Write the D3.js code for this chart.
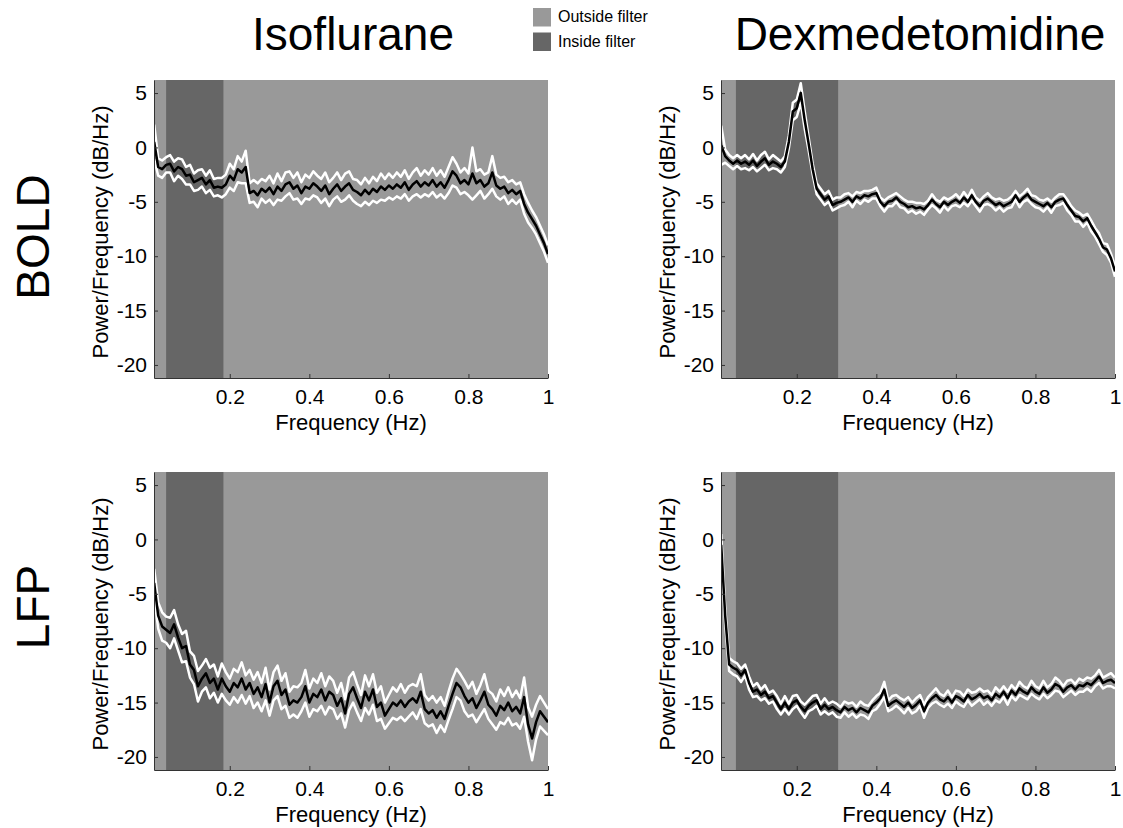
<!DOCTYPE html>
<html>
<head>
<meta charset="utf-8">
<script src="https://cdn.jsdelivr.net/npm/d3@7"></script>
<style>
  body { margin: 0; background: #fff; }
  svg { display: block; font-family: "Liberation Sans", Arial, sans-serif; }
</style>
</head>
<body>
<svg id="chart" width="1123" height="828"></svg>
<script>
// ----------
var freqHz = [
  0.01, 0.02, 0.03, 0.04, 0.05, 0.06, 0.07, 0.08, 0.09, 0.10,
  0.11, 0.12, 0.13, 0.14, 0.15, 0.16, 0.17, 0.18, 0.19, 0.20,
  0.21, 0.22, 0.23, 0.24, 0.25, 0.26, 0.27, 0.28, 0.29, 0.30,
  0.31, 0.32, 0.33, 0.34, 0.35, 0.36, 0.37, 0.38, 0.39, 0.40,
  0.41, 0.42, 0.43, 0.44, 0.45, 0.46, 0.47, 0.48, 0.49, 0.50,
  0.51, 0.52, 0.53, 0.54, 0.55, 0.56, 0.57, 0.58, 0.59, 0.60,
  0.61, 0.62, 0.63, 0.64, 0.65, 0.66, 0.67, 0.68, 0.69, 0.70,
  0.71, 0.72, 0.73, 0.74, 0.75, 0.76, 0.77, 0.78, 0.79, 0.80,
  0.81, 0.82, 0.83, 0.84, 0.85, 0.86, 0.87, 0.88, 0.89, 0.90,
  0.91, 0.92, 0.93, 0.94, 0.95, 0.96, 0.97, 0.98, 0.99, 1.00
];

// Isoflurane, BOLD
var isoBoldMean = [
  0.5, -1.8, -2.0, -1.6, -1.5, -2.2, -1.8, -2.0, -2.6, -2.5,
  -3.2, -3.0, -2.8, -3.4, -3.0, -3.7, -3.6, -3.7, -3.4, -2.6,
  -3.0, -2.0, -2.3, -1.8, -4.2, -4.0, -4.4, -3.8, -4.1, -3.7,
  -4.3, -3.6, -4.0, -3.4, -3.2, -3.8, -3.5, -4.2, -3.6, -3.8,
  -3.3, -3.6, -4.0, -3.5, -4.3, -3.8, -3.4, -4.0, -3.6, -3.3,
  -3.9, -4.1, -4.4, -3.9, -4.3, -3.8, -4.1, -3.6, -3.9, -3.5,
  -3.8, -3.4, -3.7, -3.2, -3.9, -3.4, -3.1, -3.6, -3.2, -3.5,
  -3.0, -3.6, -3.2, -3.7, -3.0, -2.2, -2.6, -3.3, -3.0, -3.4,
  -2.4, -3.3, -3.0, -3.6, -3.3, -2.3, -3.5, -3.8, -3.6, -4.2,
  -3.9, -4.3, -4.0, -5.2, -6.0, -6.6, -7.2, -8.0, -8.8, -9.8
];
var isoBoldSem = [
  1.6, 0.8, 0.8, 0.7, 0.8, 0.9, 0.8, 0.9, 0.8, 0.9,
  0.8, 0.9, 0.8, 0.8, 0.9, 0.8, 0.8, 0.9, 0.9, 1.1,
  1.0, 1.2, 1.0, 1.5, 0.9, 1.0, 1.1, 0.9, 1.0, 1.1,
  1.0, 1.2, 0.9, 1.1, 1.0, 1.0, 1.2, 1.0, 1.1, 1.0,
  1.1, 1.0, 1.1, 1.2, 1.1, 1.0, 1.1, 1.0, 1.2, 1.1,
  1.0, 1.1, 1.0, 1.1, 1.0, 1.1, 1.0, 1.2, 1.0, 1.1,
  1.0, 1.1, 1.0, 1.1, 1.0, 1.1, 1.2, 1.0, 1.1, 1.0,
  1.1, 1.0, 1.1, 1.0, 1.2, 1.3, 1.1, 1.0, 1.1, 1.0,
  2.4, 1.1, 1.0, 1.1, 1.0, 1.5, 1.0, 1.0, 0.9, 1.0,
  0.9, 0.9, 0.8, 0.9, 0.9, 0.8, 0.8, 0.8, 0.8, 0.8
];

// Dexmedetomidine, BOLD
var dexBoldMean = [
  0.2, -0.8, -1.2, -1.5, -1.2, -1.5, -1.3, -1.6, -1.2, -1.7,
  -1.3, -1.0, -1.6, -1.3, -1.5, -1.8, -1.3, 0.5, 3.3, 3.6,
  5.0, 2.5, 0.3, -2.0, -3.8, -4.3, -4.8, -4.5, -5.3, -5.1,
  -5.0, -4.8, -4.6, -5.0, -4.5, -4.7, -4.4, -4.5, -4.3, -4.2,
  -5.0, -5.4, -5.0, -4.9, -4.6, -5.0, -5.2, -5.5, -5.4, -5.6,
  -5.5, -5.7, -5.3, -4.8, -5.2, -5.5, -5.0, -5.3, -5.0, -4.8,
  -5.1, -4.6, -5.0, -4.4, -5.0, -5.4, -4.9, -4.7, -5.0, -5.3,
  -5.1, -5.4, -5.2, -5.0, -4.4, -5.0, -4.6, -4.3, -4.8, -5.0,
  -5.2, -5.4, -5.1, -5.5, -5.0, -4.8, -4.7, -5.3, -5.8, -6.3,
  -6.4, -6.8, -6.5, -7.2, -7.8, -8.4, -9.2, -9.4, -10.2, -11.4
];
var dexBoldSem = [
  1.8, 0.6, 0.5, 0.5, 0.5, 0.5, 0.6, 0.5, 0.6, 0.5,
  0.6, 0.6, 0.5, 0.6, 0.5, 0.5, 0.5, 0.6, 0.8, 0.8,
  0.9, 0.8, 0.6, 0.5, 0.5, 0.5, 0.5, 0.5, 0.5, 0.5,
  0.4, 0.5, 0.4, 0.5, 0.4, 0.5, 0.4, 0.5, 0.4, 0.5,
  0.4, 0.5, 0.4, 0.5, 0.4, 0.5, 0.4, 0.5, 0.4, 0.5,
  0.4, 0.5, 0.4, 0.5, 0.4, 0.5, 0.4, 0.5, 0.4, 0.5,
  0.4, 0.5, 0.4, 0.5, 0.4, 0.5, 0.4, 0.5, 0.4, 0.5,
  0.4, 0.5, 0.4, 0.5, 0.4, 0.5, 0.4, 0.5, 0.4, 0.5,
  0.4, 0.5, 0.4, 0.5, 0.4, 0.5, 0.4, 0.5, 0.4, 0.5,
  0.4, 0.5, 0.4, 0.5, 0.4, 0.5, 0.4, 0.5, 0.4, 0.5
];

// Isoflurane, LFP
var isoLfpMean = [
  -4.0, -7.0, -8.0, -8.3, -8.6, -7.8, -9.0, -10.0, -9.8, -11.5,
  -12.0, -13.5, -12.8, -12.3, -13.2, -12.8, -13.8, -12.8, -13.5, -14.0,
  -13.2, -13.6, -12.8, -13.8, -13.2, -14.2, -13.6, -14.5, -13.3, -15.0,
  -13.5, -13.0, -14.3, -13.8, -15.2, -14.8, -15.0, -14.5, -13.5, -15.0,
  -14.2, -14.5, -13.8, -14.8, -14.0, -14.3, -15.3, -14.6, -16.0, -14.2,
  -13.6, -14.6, -15.5, -14.0, -14.8, -13.8, -15.4, -15.0, -16.2, -15.6,
  -15.0, -15.3, -14.8, -15.4, -14.9, -14.6, -15.0, -14.0, -15.6, -16.0,
  -15.7, -16.4, -15.8, -16.5, -15.3, -14.2, -13.2, -13.6, -14.4, -15.0,
  -14.6, -15.5, -14.8, -14.0, -15.2, -15.6, -16.2, -15.3, -15.7, -15.0,
  -15.8, -15.4, -16.0, -14.5, -17.0, -18.3, -16.8, -15.8, -16.3, -16.8
];
var isoLfpSem = [
  1.3, 1.2, 1.3, 1.2, 1.4, 1.3, 1.2, 1.3, 1.4, 1.2,
  1.3, 1.4, 1.2, 1.3, 1.4, 1.3, 1.2, 1.4, 1.3, 1.2,
  1.3, 1.4, 1.5, 1.3, 1.2, 1.3, 1.4, 1.3, 1.5, 1.2,
  1.3, 1.4, 1.3, 1.5, 1.2, 1.3, 1.4, 1.3, 1.5, 1.3,
  1.4, 1.3, 1.5, 1.3, 1.4, 1.3, 1.2, 1.4, 1.3, 1.5,
  1.4, 1.3, 1.2, 1.5, 1.3, 1.4, 1.3, 1.5, 1.2, 1.3,
  1.4, 1.3, 1.5, 1.3, 1.4, 1.3, 1.5, 1.6, 1.3, 1.2,
  1.3, 1.4, 1.3, 1.2, 1.3, 1.4, 1.3, 1.2, 1.4, 1.3,
  1.5, 1.3, 1.4, 1.6, 1.3, 1.4, 1.3, 1.5, 1.3, 1.4,
  1.3, 1.5, 1.4, 1.8, 1.6, 2.0, 1.6, 1.4, 1.3, 1.2
];

// Dexmedetomidine, LFP
var dexLfpMean = [
  -0.5, -7.0, -11.5, -11.8, -12.0, -12.5, -12.0, -13.2, -14.0, -13.8,
  -14.3, -14.0, -14.6, -14.4, -15.0, -15.6, -15.0, -15.6, -15.0, -14.8,
  -15.4, -15.8, -15.3, -15.0, -14.8, -15.6, -15.2, -15.6, -15.4, -15.7,
  -15.9, -15.4, -15.7, -15.5, -15.9, -15.5, -15.7, -15.9, -15.3, -15.0,
  -14.6, -13.8, -15.3, -15.0, -14.8, -15.1, -15.4, -15.0, -15.5, -15.2,
  -14.8, -15.8, -15.0, -14.6, -14.3, -14.7, -14.9, -14.5, -15.0, -14.4,
  -14.6, -14.9, -14.3, -14.7, -14.5, -14.2, -14.6, -14.4, -14.8, -14.2,
  -14.5, -14.0, -14.6, -13.9, -14.3, -13.7, -14.0, -14.2, -13.6, -14.0,
  -14.2, -13.6, -14.1, -13.8, -13.3, -13.5, -14.0, -13.6, -13.4, -13.8,
  -13.4, -13.5, -13.2, -13.4, -13.0, -12.6, -13.2, -13.0, -12.9, -13.2
];
var dexLfpSem = [
  1.0, 0.8, 0.6, 0.6, 0.6, 0.6, 0.5, 0.6, 0.5, 0.6,
  0.5, 0.6, 0.5, 0.5, 0.6, 0.5, 0.6, 0.5, 0.6, 0.5,
  0.5, 0.6, 0.5, 0.6, 0.5, 0.5, 0.6, 0.5, 0.5, 0.6,
  0.5, 0.5, 0.6, 0.5, 0.5, 0.6, 0.5, 0.6, 0.5, 0.6,
  0.5, 0.7, 0.5, 0.6, 0.5, 0.5, 0.6, 0.5, 0.5, 0.6,
  0.5, 0.6, 0.5, 0.5, 0.6, 0.5, 0.5, 0.6, 0.5, 0.5,
  0.6, 0.5, 0.5, 0.6, 0.5, 0.5, 0.6, 0.5, 0.5, 0.6,
  0.5, 0.5, 0.6, 0.5, 0.5, 0.6, 0.5, 0.5, 0.6, 0.5,
  0.5, 0.6, 0.5, 0.5, 0.6, 0.5, 0.5, 0.6, 0.5, 0.5,
  0.6, 0.5, 0.5, 0.6, 0.5, 0.6, 0.5, 0.5, 0.6, 0.5
];

var xTicks = [0.2, 0.4, 0.6, 0.8, 1];
var yTicks = [5, 0, -5, -10, -15, -20];
var columnTitles = ['Isoflurane', 'Dexmedetomidine'];
var rowTitles = ['BOLD', 'LFP'];
var filterBands = [[0.04, 0.184], [0.047, 0.304]]; // inside-filter range per column (Hz)
var legendLabels = ['Outside filter', 'Inside filter'];

(function() {

  // ----------
  var svg = d3.select('#chart');
  var colLeft = [154, 721];
  var rowTop = [80, 472];
  var rowLabelY = [237, 607];
  var plotW = 394;
  var plotH = 298;
  var outsideColor = '#999999';
  var insideColor = '#666666';

  var panels = [
    { row: 0, col: 0, mean: isoBoldMean, sem: isoBoldSem },
    { row: 0, col: 1, mean: dexBoldMean, sem: dexBoldSem },
    { row: 1, col: 0, mean: isoLfpMean, sem: isoLfpSem },
    { row: 1, col: 1, mean: dexLfpMean, sem: dexLfpSem }
  ];

  var x = d3.scaleLinear().domain([0.0095, 1]).range([0, plotW]);
  var y = d3.scaleLinear().domain([-21.2, 6.2]).range([plotH, 0]);

  // ----------
  panels.forEach(function(p, k) {
    var g = svg.append('g')
      .attr('transform', 'translate(' + colLeft[p.col] + ',' + rowTop[p.row] + ')');

    g.append('clipPath')
      .attr('id', 'clip' + k)
      .append('rect')
      .attr('width', plotW)
      .attr('height', plotH);

    g.append('rect')
      .attr('width', plotW)
      .attr('height', plotH)
      .style('fill', outsideColor);

    var band = filterBands[p.col];
    g.append('rect')
      .attr('x', x(band[0]))
      .attr('width', x(band[1]) - x(band[0]))
      .attr('height', plotH)
      .style('fill', insideColor);

    var lineFor = function(offset) {
      return d3.line()
        .x(function(d, i) { return x(freqHz[i]); })
        .y(function(d, i) { return y(d + offset * p.sem[i]); });
    };

    var lines = g.append('g').attr('clip-path', 'url(#clip' + k + ')');

    [1, -1].forEach(function(s) {
      lines.append('path')
        .datum(p.mean)
        .attr('d', lineFor(s))
        .style('fill', 'none')
        .style('stroke', '#fff')
        .style('stroke-width', 2.5)
        .style('stroke-linejoin', 'round');
    });

    lines.append('path')
      .datum(p.mean)
      .attr('d', lineFor(0))
      .style('fill', 'none')
      .style('stroke', '#000')
      .style('stroke-width', 2.5)
      .style('stroke-linejoin', 'round');

    var yAxis = g.append('g')
      .call(d3.axisLeft(y)
        .tickValues(yTicks)
        .tickFormat(function(d) { return String(d); })
        .tickSizeInner(-4)
        .tickSizeOuter(0)
        .tickPadding(7));

    var xAxis = g.append('g')
      .attr('transform', 'translate(0,' + plotH + ')')
      .call(d3.axisBottom(x)
        .tickValues(xTicks)
        .tickFormat(function(d) { return String(d); })
        .tickSizeInner(-4)
        .tickSizeOuter(0)
        .tickPadding(11));

    [yAxis, xAxis].forEach(function(a) {
      a.selectAll('path, line').style('stroke', '#333');
      a.selectAll('text')
        .style('font-family', '"Liberation Sans", Arial, sans-serif')
        .style('font-size', '21px')
        .style('fill', '#000');
    });

    g.append('text')
      .attr('transform', 'translate(-46,' + (plotH / 2 + 3) + ') rotate(-90)')
      .attr('text-anchor', 'middle')
      .style('font-size', '22px')
      .style('fill', '#000')
      .text('Power/Frequency (dB/Hz)');

    g.append('text')
      .attr('x', plotW / 2)
      .attr('y', plotH + 52)
      .attr('text-anchor', 'middle')
      .style('font-size', '22px')
      .style('fill', '#000')
      .text('Frequency (Hz)');
  });

  // ----------
  columnTitles.forEach(function(t, c) {
    svg.append('text')
      .attr('x', colLeft[c] + plotW / 2 + 2)
      .attr('y', 50)
      .attr('text-anchor', 'middle')
      .style('font-size', '46px')
      .style('fill', '#000')
      .text(t);
  });

  rowTitles.forEach(function(t, r) {
    svg.append('text')
      .attr('transform', 'translate(49,' + rowLabelY[r] + ') rotate(-90)')
      .attr('text-anchor', 'middle')
      .style('font-size', '46px')
      .style('fill', '#000')
      .text(t);
  });

  // ----------
  var legend = svg.append('g').attr('transform', 'translate(533,8)');
  legendLabels.forEach(function(label, i) {
    legend.append('rect')
      .attr('y', i * 24.5)
      .attr('width', 18)
      .attr('height', 18.5)
      .style('fill', i === 0 ? outsideColor : insideColor);

    legend.append('text')
      .attr('x', 25)
      .attr('y', i * 24.5 + 14)
      .style('font-size', '16px')
      .style('fill', '#000')
      .text(label);
  });

})();
</script>
</body>
</html>
